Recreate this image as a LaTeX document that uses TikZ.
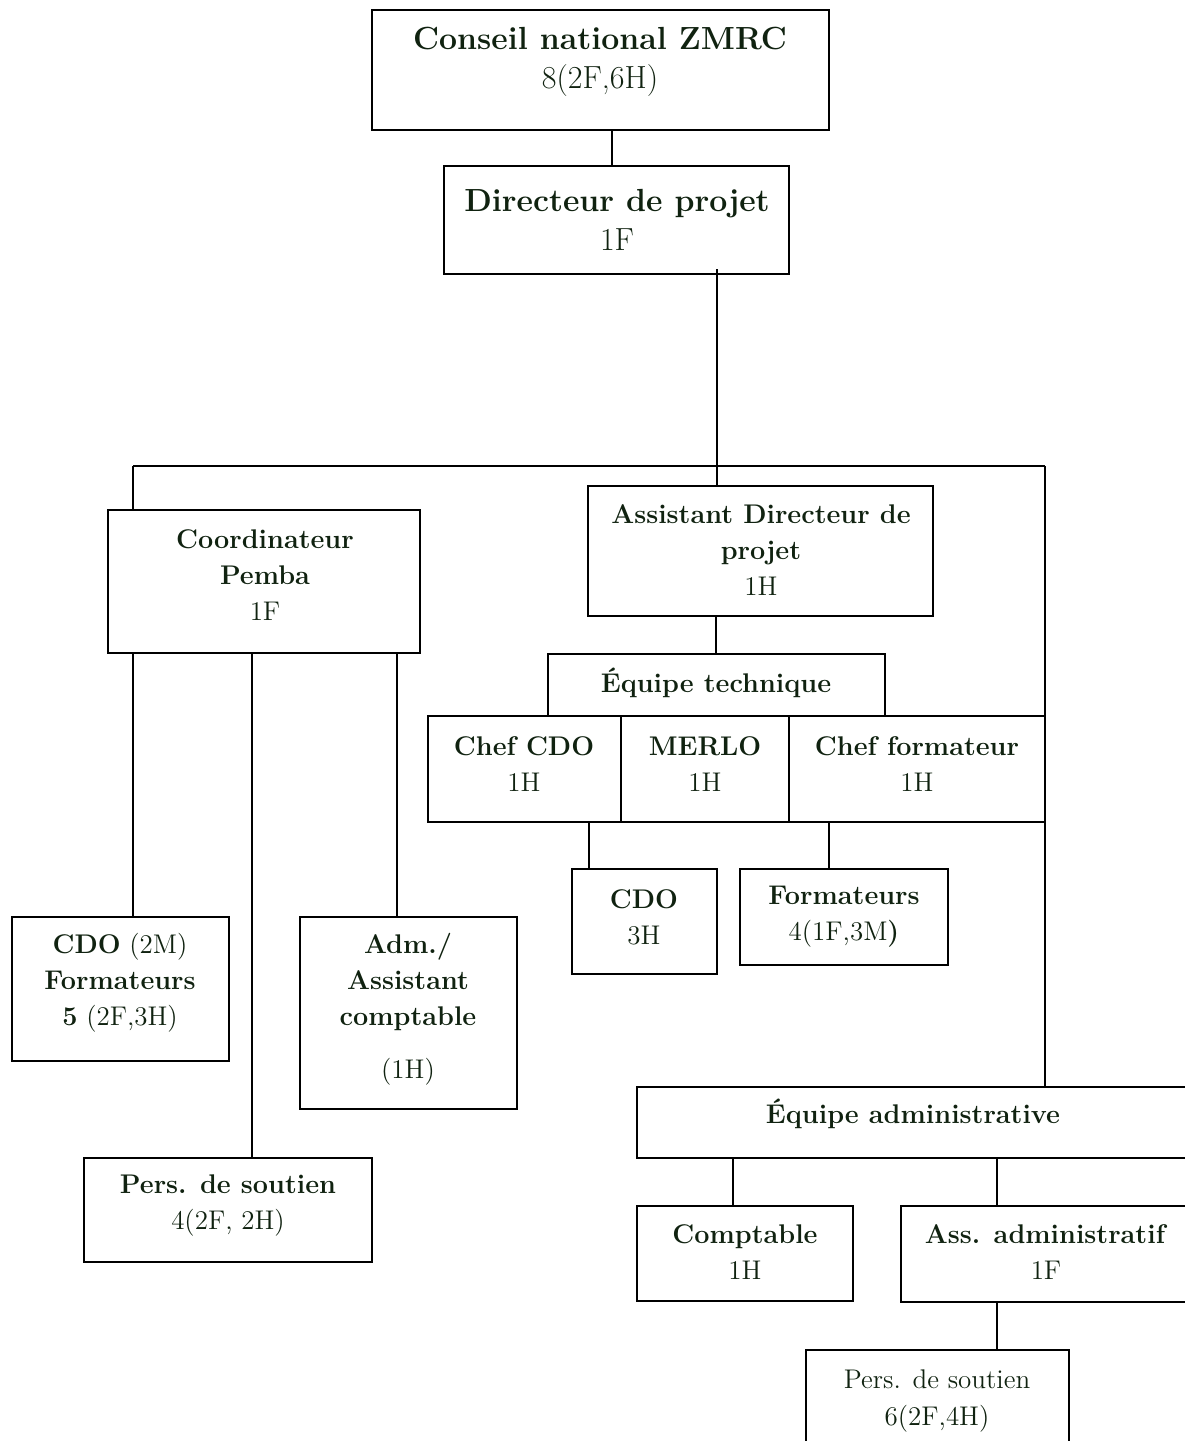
\documentclass[tikz,border=0pt]{standalone}
\usetikzlibrary{fit}
\definecolor{txtc}{RGB}{16,34,16}
\begin{document}
\begin{tikzpicture}[x=0.5pt,y=-0.5pt,
  box/.style={draw=black,line width=1pt,inner sep=0pt},
  conn/.style={draw=black,line width=0.8pt},
  big/.style={text=txtc,align=center,inner sep=0pt,font=\fontsize{16}{19.5}\selectfont},
  sm/.style={text=txtc,align=center,inner sep=0pt,font=\fontsize{13.5}{18}\selectfont}]
\useasboundingbox (0,0) rectangle (1184,1441);
% boxes
\node[box,fit={(372,10) (829,130)}] (conseil) {};
\node[box,fit={(444,166) (789,274)}] (dir) {};
\node[box,fit={(108,510) (420,653)}] (coord) {};
\node[box,fit={(588,486) (933,616)}] (assist) {};
\node[box,fit={(548,654) (885,716)}] (eqtech) {};
\node[box,fit={(428,716) (621,822)}] (chefcdo) {};
\node[box,fit={(621,716) (789,822)}] (merlo) {};
\node[box,fit={(789,716) (1045,822)}] (cheff) {};
\node[box,fit={(572,869) (717,974)}] (cdo) {};
\node[box,fit={(740,869) (948,965)}] (form) {};
\node[box,fit={(12,917) (229,1061)}] (cdoform) {};
\node[box,fit={(300,917) (517,1109)}] (adm) {};
\node[box,fit={(84,1158) (372,1262)}] (persA) {};
\node[box,fit={(637,1087) (1191,1158)}] (eqadm) {};
\node[box,fit={(637,1206) (853,1301)}] (compt) {};
\node[box,fit={(901,1206) (1191,1302)}] (assadm) {};
\node[box,fit={(806,1350) (1069,1460)}] (persB) {};
% texts
\node[big] (t1) at (600,62) {\textbf{Conseil national ZMRC}\\8(2F,6H)};
\node[big] (t2) at (617,220) {\textbf{Directeur de projet}\\1F};
\node[sm] (t3) at (265,575) {\textbf{Coordinateur}\\\textbf{Pemba}\\1F};
\node[sm] (t4) at (761,550) {\textbf{Assistant Directeur de}\\\textbf{projet}\\1H};
\node[sm] (t5) at (716,683) {\textbf{\'Equipe technique}};
\node[sm] (t6) at (524,764) {\textbf{Chef CDO}\\1H};
\node[sm] (t7) at (705,764) {\textbf{MERLO}\\1H};
\node[sm] (t8) at (917,764) {\textbf{Chef formateur}\\1H};
\node[sm] (t9) at (644,917) {\textbf{CDO}\\3H};
\node[sm] (t10) at (844,917) {\textbf{Formateurs}\\4(1F,3M\textbf{)}};
\node[sm] (t11) at (120,983) {\textbf{CDO} (2M)\\\textbf{Formateurs}\\\textbf{5} (2F,3H)};
\node[sm] (t12) at (408,1009) {\textbf{Adm./}\\\textbf{Assistant}\\\textbf{comptable}\\[8.5pt](1H)};
\node[sm] (t13) at (228,1206) {\textbf{Pers. de soutien}\\4(2F, 2H)};
\node[sm] (t14) at (913,1114) {\textbf{\'Equipe administrative}};
\node[sm] (t15) at (745,1252) {\textbf{Comptable}\\1H};
\node[sm] (t16) at (1046,1252) {\textbf{Ass. administratif}\\1F};
\node[sm] (t17) at (937,1401) {Pers. de soutien\\6(2F,4H)};
% connectors
\coordinate (barL) at (133,466);
\coordinate (barM) at (717,466);
\coordinate (barR) at (1045,466);
\draw[conn] (conseil.south -| 612,0) -- (dir.north -| 612,0);
\draw[conn] (717,269) -- (barM) -- (assist.north -| barM);
\draw[conn] (barL) -- (barR);
\draw[conn] (barL) -- (coord.north -| barL);
\draw[conn] (barR) -- (eqadm.north -| barR);
\draw[conn] (assist.south -| 716,0) -- (eqtech.north -| 716,0);
\draw[conn] (chefcdo.south -| 589,0) -- (cdo.north -| 589,0);
\draw[conn] (cheff.south -| 829,0) -- (form.north -| 829,0);
\draw[conn] (coord.south -| 133,0) -- (cdoform.north -| 133,0);
\draw[conn] (coord.south -| 252,0) -- (persA.north -| 252,0);
\draw[conn] (coord.south -| 397,0) -- (adm.north -| 397,0);
\draw[conn] (eqadm.south -| 733,0) -- (compt.north -| 733,0);
\draw[conn] (eqadm.south -| 997,0) -- (assadm.north -| 997,0);
\draw[conn] (assadm.south -| 997,0) -- (persB.north -| 997,0);
\end{tikzpicture}
\end{document}
